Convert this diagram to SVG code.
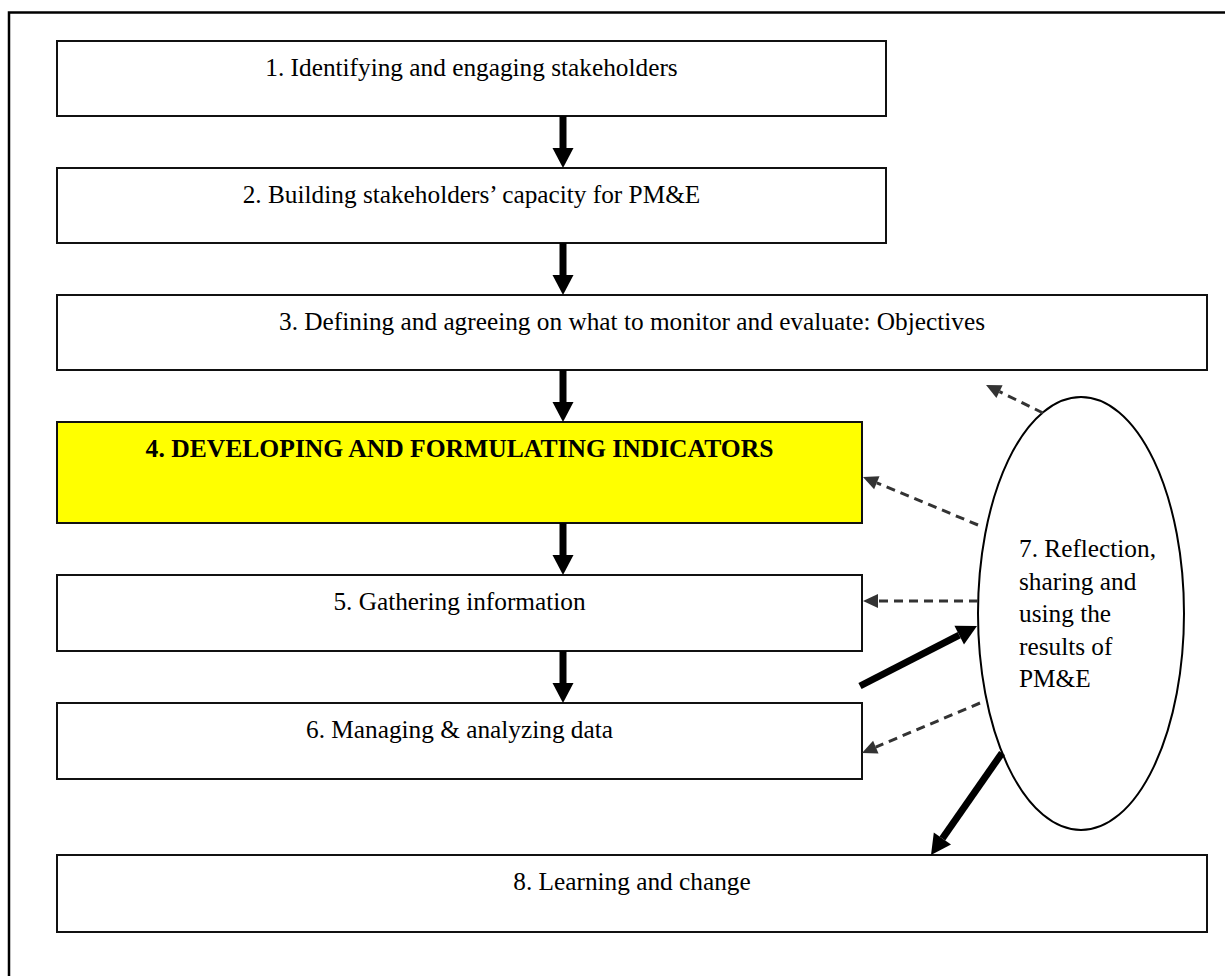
<svg xmlns="http://www.w3.org/2000/svg" width="1225" height="976" viewBox="0 0 1225 976">
<style>
.box{fill:#fff;stroke:#111;stroke-width:2}
.hl{fill:#ffff00;stroke:#111;stroke-width:2}
.t{font-family:"Liberation Serif","Times New Roman",serif;font-size:25.3px;fill:#000}
.c{text-anchor:middle}
.b{font-weight:bold;font-size:25.6px}
.solid{stroke:#000;stroke-width:7;fill:none}
.dash{stroke:#333;stroke-width:3;stroke-dasharray:9 6;fill:none}
</style>
<defs>
<marker id="ah" markerUnits="userSpaceOnUse" markerWidth="22" markerHeight="24" refX="0" refY="11" orient="auto" overflow="visible">
<path d="M0,0.5 L20,11 L0,21.5 z" fill="#000"/>
</marker>
<marker id="dh" markerUnits="userSpaceOnUse" markerWidth="17" markerHeight="17" refX="0" refY="7.5" orient="auto" overflow="visible">
<path d="M0,0.5 L15,7.5 L0,14.5 z" fill="#333"/>
</marker>
</defs>
<rect width="1225" height="976" fill="#fff"/>
<path d="M9,976 V12.5 H1225" fill="none" stroke="#000" stroke-width="2.5"/>

<g id="node1"><rect class="box" x="57" y="41" width="829" height="75"/><text class="t c" x="471.5" y="76">1. Identifying and engaging stakeholders</text></g>
<g id="node2"><rect class="box" x="57" y="168" width="829" height="75"/><text class="t c" x="471.5" y="203">2. Building stakeholders’ capacity for PM&amp;E</text></g>
<g id="node3"><rect class="box" x="57" y="295" width="1150" height="75"/><text class="t c" x="632" y="330">3. Defining and agreeing on what to monitor and evaluate: Objectives</text></g>
<g id="node4"><rect class="hl" x="57" y="422" width="805" height="101"/><text class="t c b" x="459.5" y="457">4. DEVELOPING AND FORMULATING INDICATORS</text></g>
<g id="node5"><rect class="box" x="57" y="575" width="805" height="76"/><text class="t c" x="459.5" y="610">5. Gathering information</text></g>
<g id="node6"><rect class="box" x="57" y="703" width="805" height="76"/><text class="t c" x="459.5" y="738">6. Managing &amp; analyzing data</text></g>
<g id="node7"><ellipse cx="1081" cy="613.5" rx="103" ry="216.5" fill="#fff" stroke="#000" stroke-width="2"/>
<text class="t"><tspan x="1019" y="557">7. Reflection,</tspan><tspan x="1019" y="589.5">sharing and</tspan><tspan x="1019" y="622">using the</tspan><tspan x="1019" y="654.5">results of</tspan><tspan x="1019" y="687">PM&amp;E</tspan></text></g>
<g id="node8"><rect class="box" x="57" y="855" width="1150" height="77"/><text class="t c" x="632" y="890">8. Learning and change</text></g>

<g id="connectors">
<line class="solid" x1="563" y1="116" x2="563" y2="148" marker-end="url(#ah)"/>
<line class="solid" x1="563" y1="243" x2="563" y2="275" marker-end="url(#ah)"/>
<line class="solid" x1="563" y1="370" x2="563" y2="402" marker-end="url(#ah)"/>
<line class="solid" x1="563" y1="523" x2="563" y2="555" marker-end="url(#ah)"/>
<line class="solid" x1="563" y1="651" x2="563" y2="683" marker-end="url(#ah)"/>
<line class="solid" x1="860" y1="686" x2="959.2" y2="635.1" marker-end="url(#ah)"/>
<line class="solid" x1="1002" y1="753" x2="942.4" y2="838.6" marker-end="url(#ah)"/>
<line class="dash" x1="1043" y1="413" x2="999.5" y2="391.6" marker-end="url(#dh)"/>
<line class="dash" x1="978" y1="525" x2="876.8" y2="482.8" marker-end="url(#dh)"/>
<line class="dash" x1="978" y1="601" x2="878" y2="601" marker-end="url(#dh)"/>
<line class="dash" x1="980" y1="703" x2="875.8" y2="747.1" marker-end="url(#dh)"/>
</g>
</svg>
